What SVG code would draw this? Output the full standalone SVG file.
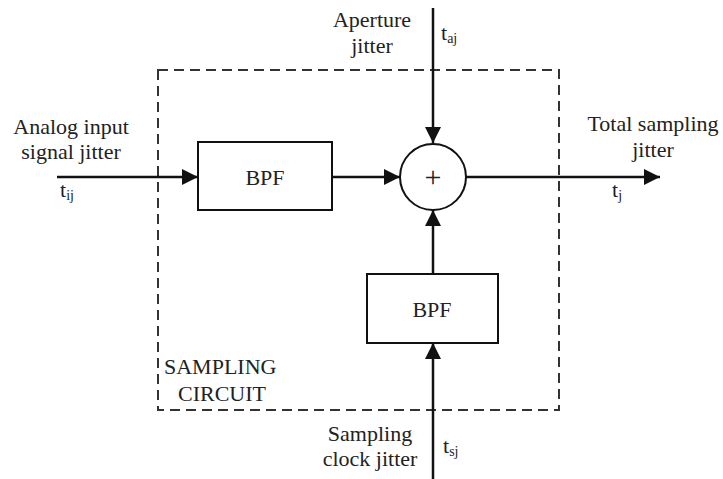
<svg xmlns="http://www.w3.org/2000/svg" width="723" height="479" viewBox="0 0 723 479">
<style>
.box{fill:#fff;stroke:#111;stroke-width:2}
.ln{stroke:#111;stroke-width:2.5;fill:none}
</style>
<defs>
<marker id="ah" viewBox="0 0 10 10" refX="10" refY="5" markerWidth="24" markerHeight="16" markerUnits="userSpaceOnUse" orient="auto">
<path d="M0,0 L10,5 L0,10 z" fill="#111"/>
</marker>
</defs>
<rect width="723" height="479" fill="#fff"/>
<g font-family="Liberation Serif, DejaVu Serif, serif" font-size="22" fill="#222">
<g id="sampling-circuit">
<rect x="158" y="70" width="401" height="340" fill="none" stroke="#333" stroke-width="2" stroke-dasharray="10,6"/>
<text x="164" y="374">SAMPLING</text>
<text x="178" y="401">CIRCUIT</text>
</g>
<g id="connectors">
<line class="ln" x1="57" y1="177" x2="198" y2="177" marker-end="url(#ah)"/>
<line class="ln" x1="332" y1="177" x2="400" y2="177" marker-end="url(#ah)"/>
<line class="ln" x1="466" y1="177" x2="660" y2="177" marker-end="url(#ah)"/>
<line class="ln" x1="433" y1="8" x2="433" y2="143" marker-end="url(#ah)"/>
<line class="ln" x1="433" y1="273" x2="433" y2="210" marker-end="url(#ah)"/>
<line class="ln" x1="433" y1="479" x2="433" y2="343" marker-end="url(#ah)"/>
</g>
<g id="bpf1">
<rect class="box" x="198" y="142" width="134" height="68"/>
<text x="265" y="185" text-anchor="middle">BPF</text>
</g>
<g id="sum">
<circle class="box" cx="433" cy="177" r="33"/>
<text x="433" y="187" text-anchor="middle" font-size="30">+</text>
</g>
<g id="bpf2">
<rect class="box" x="367" y="274" width="131" height="69"/>
<text x="432" y="317" text-anchor="middle">BPF</text>
</g>
<g id="input">
<text x="71" y="134" text-anchor="middle">Analog input</text>
<text x="71" y="159" text-anchor="middle">signal jitter</text>
<text x="60" y="197">t<tspan font-size="14" dy="3">ij</tspan></text>
</g>
<g id="aperture">
<text x="372" y="27" text-anchor="middle">Aperture</text>
<text x="372" y="53" text-anchor="middle">jitter</text>
<text x="441" y="40">t<tspan font-size="14" dy="3">aj</tspan></text>
</g>
<g id="output">
<text x="653" y="131" text-anchor="middle">Total sampling</text>
<text x="653" y="157" text-anchor="middle">jitter</text>
<text x="612" y="197">t<tspan font-size="14" dy="3">j</tspan></text>
</g>
<g id="clock">
<text x="370" y="441" text-anchor="middle">Sampling</text>
<text x="370" y="466" text-anchor="middle">clock jitter</text>
<text x="443" y="453">t<tspan font-size="14" dy="3">sj</tspan></text>
</g>
</g>
</svg>
